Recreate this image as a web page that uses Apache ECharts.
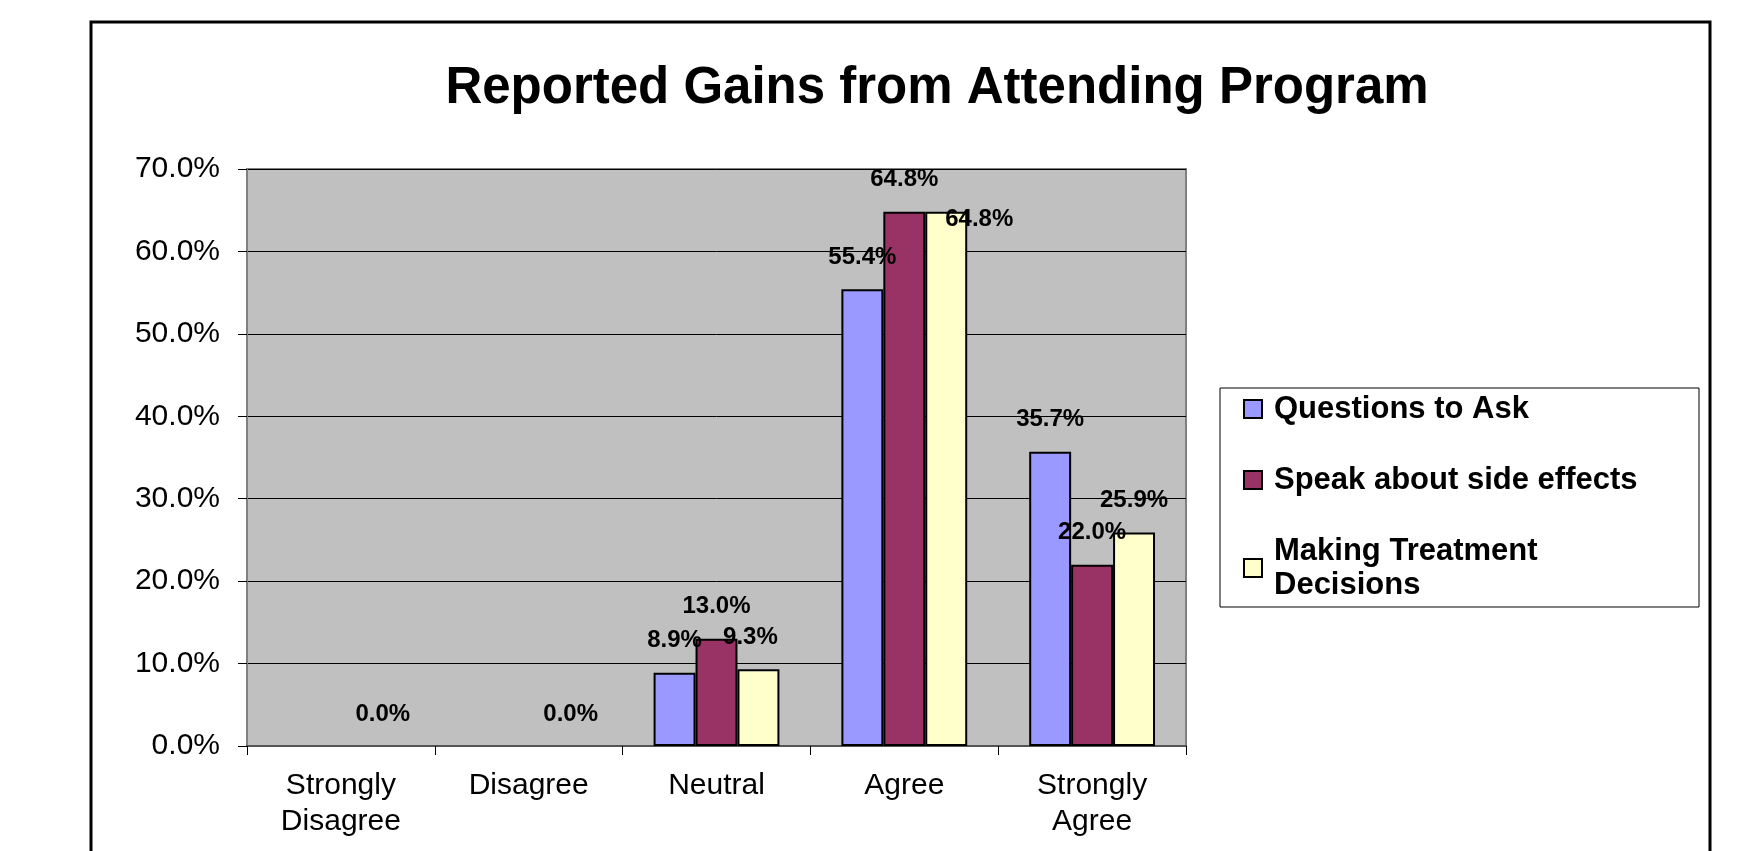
<!DOCTYPE html>
<html>
<head>
<meta charset="utf-8">
<script src="https://cdn.jsdelivr.net/npm/echarts@6/dist/echarts.min.js"></script>
<style>
  html, body { margin: 0; padding: 0; background: #fff; }
  #chart { width: 1743px; height: 851px; }
</style>
</head>
<body>
<div id="chart"></div>
<script>
const categories = ["Strongly\nDisagree", "Disagree", "Neutral", "Agree", "Strongly\nAgree"];
const seriesNames = ["Questions to Ask", "Speak about side effects", "Making Treatment Decisions"];
const questionsToAsk = [0, 0, 8.9, 55.4, 35.7];
const speakAboutSideEffects = [0, 0, 13.0, 64.8, 22.0];
const makingTreatmentDecisions = [0, 0, 9.3, 64.8, 25.9];
const colors = ["#9999FF", "#993366", "#FFFFCC"];

const FONT = "Liberation Sans, Arial, sans-serif";
const chart = echarts.init(document.getElementById("chart"));

function pct(v) {
	return v.toFixed(1) + "%";
}

const values = [questionsToAsk, speakAboutSideEffects, makingTreatmentDecisions];

const series = values.map((data, i) => ({
	name: seriesNames[i],
	type: "bar",
	// zero bars get no outline, so nothing is drawn on the axis
	data: data.map((v) => (v === 0 ? { value: v, itemStyle: { borderWidth: 0 } } : v)),
	barGap: "0%",
	barCategoryGap: "33%",
	itemStyle: { color: colors[i], borderColor: "#000", borderWidth: 2 },
	label: {
		show: true,
		position: "top",
		distance: 20,
		color: "#000",
		fontFamily: FONT,
		fontWeight: "bold",
		fontSize: 24,
		// only the last series shows the 0.0% labels, like the original
		formatter: (p) => (p.value === 0 && p.seriesIndex < 2 ? "" : pct(p.value)),
	},
	labelLayout: (p) => {
		if (p.seriesIndex === 2 && p.dataIndex === 3) return { dx: 33, dy: 40 };
		if (p.seriesIndex === 2 && p.dataIndex === 2) return { dx: -8 };
		return {};
	},
}));

const option = {
	animation: false,
	backgroundColor: "#fff",
	title: {
		text: "Reported Gains from Attending Program",
		left: 932,
		top: 58,
		textAlign: "center",
		textStyle: { fontFamily: FONT, fontWeight: "bold", fontSize: 51, color: "#000" },
	},
	legend: {
		orient: "vertical",
		left: 1243,
		top: 392,
		padding: 0,
		itemGap: 37,
		itemWidth: 18,
		itemHeight: 18,
		icon: "rect",
		data: seriesNames,
		formatter: (name) => (name === "Making Treatment Decisions" ? "Making Treatment\nDecisions" : name),
		textStyle: {
			fontFamily: FONT,
			fontWeight: "bold",
			fontSize: 31,
			lineHeight: 34,
			color: "#000",
			padding: [0, 0, 0, 7],
		},
	},
	grid: {
		left: 247,
		top: 169,
		right: 557,
		bottom: 105,
		show: true,
		backgroundColor: "#C0C0C0",
		borderColor: "#808080",
		borderWidth: 2,
	},
	xAxis: {
		type: "category",
		data: categories,
		axisLine: { show: true, lineStyle: { color: "#555", width: 2 } },
		axisTick: { show: true, length: 9, lineStyle: { color: "#000" } },
		axisLabel: {
			interval: 0,
			margin: 22,
			fontFamily: FONT,
			fontSize: 30,
			lineHeight: 36,
			color: "#000",
		},
	},
	yAxis: {
		type: "value",
		min: 0,
		max: 70,
		interval: 10,
		axisLine: { show: true, lineStyle: { color: "#808080", width: 2 } },
		axisTick: { show: true, length: 9, lineStyle: { color: "#000" } },
		splitLine: { show: true, lineStyle: { color: "#000", width: 1 } },
		axisLabel: {
			margin: 27,
			fontFamily: FONT,
			fontSize: 30,
			color: "#000",
			formatter: (v) => pct(v),
		},
	},
	graphic: [
		{
			type: "rect",
			shape: { x: 91, y: 22, width: 1619, height: 860 },
			style: { fill: null, stroke: "#000", lineWidth: 3 },
			silent: true,
		},
		{
			type: "rect",
			shape: { x: 1220, y: 388, width: 479, height: 219 },
			style: { fill: null, stroke: "#000", lineWidth: 1 },
			silent: true,
		},
	],
	series: series,
};

chart.setOption(option);
</script>
</body>
</html>
